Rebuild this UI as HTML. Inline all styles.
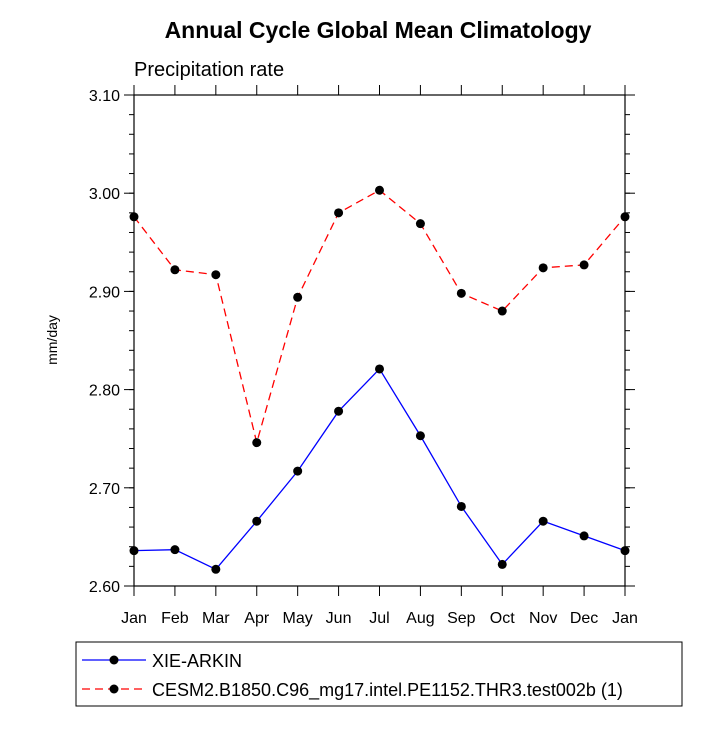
<!DOCTYPE html>
<html><head><meta charset="utf-8"><style>
body{margin:0;background:#fff}
svg text{font-family:"Liberation Sans",Helvetica,sans-serif;fill:#000}
</style></head><body>
<svg id="c" width="727" height="727" xmlns="http://www.w3.org/2000/svg">
<text x="378" y="38" text-anchor="middle" font-size="23" font-weight="bold">Annual Cycle Global Mean Climatology</text>
<text x="134" y="76" font-size="20">Precipitation rate</text>
<text transform="translate(57,340) rotate(-90)" text-anchor="middle" font-size="14">mm/day</text>
<g id="axes"></g><g id="series"></g>
<rect x="76" y="642" width="606" height="64" fill="none" stroke="#000" stroke-width="1"/>
<line x1="82" y1="660" x2="146" y2="660" stroke="#00f" stroke-width="1.3"/>
<circle cx="114" cy="660" r="4.5"/>
<text x="152" y="667" font-size="18">XIE-ARKIN</text>
<line x1="82" y1="689" x2="146" y2="689" stroke="#f00" stroke-width="1.3" stroke-dasharray="8,5"/>
<circle cx="114" cy="689" r="4.5"/>
<text x="152" y="696" font-size="18">CESM2.B1850.C96_mg17.intel.PE1152.THR3.test002b (1)</text>
</svg>
<script>
const months=["Jan","Feb","Mar","Apr","May","Jun","Jul","Aug","Sep","Oct","Nov","Dec","Jan"];
const obsValues=[2.636,2.637,2.617,2.666,2.717,2.778,2.821,2.753,2.681,2.622,2.666,2.651,2.636];
const modelValues=[2.976,2.922,2.917,2.746,2.894,2.980,3.003,2.969,2.898,2.880,2.924,2.927,2.976];
const yTicks=[2.60,2.70,2.80,2.90,3.00,3.10];
const X0=134,X1=625,Y0=586,Y1=95,ymin=2.6,ymax=3.1;
const NS="http://www.w3.org/2000/svg";
const xs=i=>X0+(X1-X0)*i/(months.length-1);
const ys=v=>Y0-(v-ymin)/(ymax-ymin)*(Y0-Y1);
function mk(t,a,p){const e=document.createElementNS(NS,t);for(const k in a)e.setAttribute(k,a[k]);p.appendChild(e);return e;}
const ax=document.getElementById('axes'),se=document.getElementById('series');
const fr=mk('rect',{x:X0,y:Y1,width:X1-X0,height:Y0-Y1,fill:'none',stroke:'#000','stroke-width':1.2},ax);


yTicks.forEach(v=>{const y=ys(v);
 mk('line',{x1:X0,x2:X0-10,y1:y,y2:y,stroke:'#000'},ax);
 mk('line',{x1:X1,x2:X1+10,y1:y,y2:y,stroke:'#000'},ax);
 const t=mk('text',{x:X0-14,y:y+6,'text-anchor':'end','font-size':16},ax);t.textContent=v.toFixed(2);
 
 
});
for(let v=ymin;v<=ymax+1e-9;v+=0.02){const y=ys(v);
 mk('line',{x1:X0,x2:X0-5,y1:y,y2:y,stroke:'#000'},ax);
 mk('line',{x1:X1,x2:X1+5,y1:y,y2:y,stroke:'#000'},ax);}
months.forEach((m,i)=>{const x=xs(i);
 mk('line',{x1:x,x2:x,y1:Y0,y2:Y0+10,stroke:'#000'},ax);
 mk('line',{x1:x,x2:x,y1:Y1,y2:Y1-10,stroke:'#000'},ax);
 const t=mk('text',{x:x,y:Y0+37,'text-anchor':'middle','font-size':16},ax);t.textContent=m;
 
 
});
function series(vals,col,dash,name){
 const l=mk('polyline',{points:vals.map((v,i)=>xs(i)+','+ys(v)).join(' '),fill:'none',stroke:col,'stroke-width':1.3,'stroke-dasharray':dash},se);
 
 
 vals.forEach((v,i)=>{const c=mk('circle',{cx:xs(i),cy:ys(v),r:4.5,fill:'#000'},se);
  
  });
}
series(modelValues,'#f00','8,5','cesm');
series(obsValues,'#00f','none','xie');
</script>
</body></html>
